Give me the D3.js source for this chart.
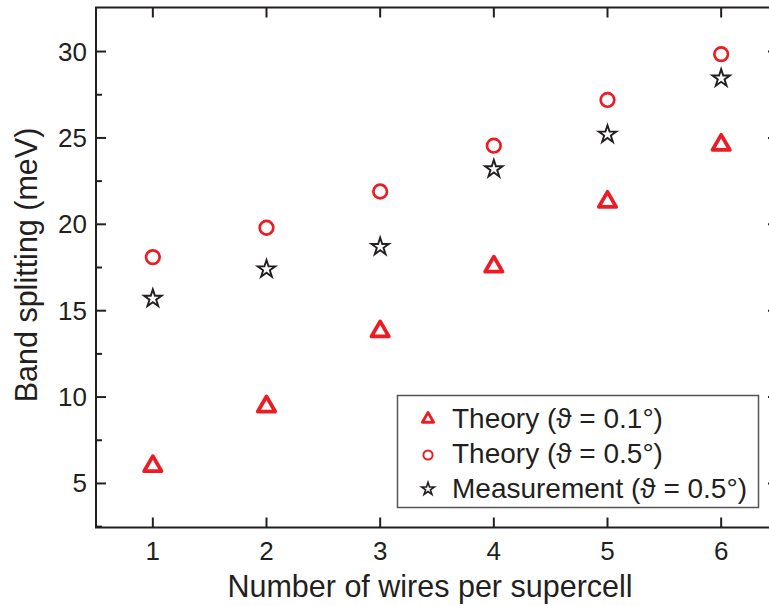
<!DOCTYPE html>
<html>
<head>
<meta charset="utf-8">
<script src="https://cdn.jsdelivr.net/npm/d3@7"></script>
<style>
    body { margin: 0; background: #fff; }
    svg { display: block; font-family: "Liberation Sans", Arial, sans-serif; }
</style>
</head>
<body>
<div id="chart"></div>
<script>
// Data
const wires = [1, 2, 3, 4, 5, 6];
const theory01 = [6.0, 9.45, 13.8, 17.55, 21.3, 24.6];
const theory05 = [18.1, 19.8, 21.9, 24.55, 27.2, 29.85];
const measured05 = [15.7, 17.4, 18.7, 23.2, 25.2, 28.45];
const yMajorTicks = [5, 10, 15, 20, 25, 30];
const yMinorTicks = [2.5, 7.5, 12.5, 17.5, 22.5, 27.5];
const legendLabels = ["Theory (\u03D1 = 0.1\u00B0)", "Theory (\u03D1 = 0.5\u00B0)", "Measurement (\u03D1 = 0.5\u00B0)"];

const width = 769;
const height = 606;
const red = "#ED1C24";
const dark = "#231F20";

const svg = d3.select("#chart").append("svg")
    .attr("width", width)
    .attr("height", height);

const plotLeft = 96, plotRight = 778, plotTop = 7.5, plotBottom = 527.5;

const x = d3.scaleLinear().domain([0.5, 6.5]).range([plotLeft, plotRight]);
const y = d3.scaleLinear().domain([2.45, 32.55]).range([plotBottom, plotTop]);

// Frame with inward ticks on all four sides
svg.append("rect")
    .attr("x", plotLeft)
    .attr("y", plotTop)
    .attr("width", plotRight - plotLeft)
    .attr("height", plotBottom - plotTop)
    .attr("fill", "none")
    .attr("stroke", dark)
    .attr("stroke-width", 2);

function drawTicks(values, len, side) {
    svg.append("g").selectAll("line")
        .data(values)
        .enter()
        .append("line")
        .attr("x1", (d) => side === "left" ? plotLeft : side === "right" ? plotRight : x(d))
        .attr("x2", (d) => side === "left" ? plotLeft + len : side === "right" ? plotRight - len : x(d))
        .attr("y1", (d) => side === "bottom" ? plotBottom : side === "top" ? plotTop : y(d))
        .attr("y2", (d) => side === "bottom" ? plotBottom - len : side === "top" ? plotTop + len : y(d))
        .attr("stroke", dark)
        .attr("stroke-width", 2);
}

drawTicks(yMajorTicks, 10, "left");
drawTicks(yMinorTicks, 6, "left");
drawTicks(yMajorTicks, 10, "right");
drawTicks(yMinorTicks, 6, "right");
drawTicks(wires, 10, "bottom");
drawTicks(wires, 10, "top");

// Tick labels
svg.append("g").selectAll("text")
    .data(yMajorTicks)
    .enter()
    .append("text")
    .text((d) => d)
    .attr("x", 87)
    .attr("y", (d) => y(d) + 9)
    .attr("text-anchor", "end")
    .attr("font-size", 26)
    .attr("fill", dark);

svg.append("g").selectAll("text")
    .data(wires)
    .enter()
    .append("text")
    .text((d) => d)
    .attr("x", (d) => x(d))
    .attr("y", 560)
    .attr("text-anchor", "middle")
    .attr("font-size", 26)
    .attr("fill", dark);

// Axis titles
svg.append("text")
    .text("Number of wires per supercell")
    .attr("x", 430)
    .attr("y", 597)
    .attr("text-anchor", "middle")
    .attr("font-size", 30.5)
    .attr("fill", dark);

svg.append("text")
    .text("Band splitting (meV)")
    .attr("transform", "translate(37,265) rotate(-90)")
    .attr("text-anchor", "middle")
    .attr("font-size", 30.5)
    .attr("fill", dark);

// Markers
const triangle = d3.symbol().type(d3.symbolTriangle).size(130);
const star = d3.symbol().type(d3.symbolStar).size(95);

svg.append("g").selectAll("path")
    .data(theory01)
    .enter()
    .append("path")
    .attr("d", triangle)
    .attr("transform", (d, i) => `translate(${x(wires[i])},${y(d)})`)
    .attr("fill", "none")
    .attr("stroke", red)
    .attr("stroke-width", 3.8)
    .attr("stroke-linejoin", "round");

svg.append("g").selectAll("circle")
    .data(theory05)
    .enter()
    .append("circle")
    .attr("cx", (d, i) => x(wires[i]))
    .attr("cy", (d) => y(d))
    .attr("r", 6.8)
    .attr("fill", "none")
    .attr("stroke", red)
    .attr("stroke-width", 2.7);

svg.append("g").selectAll("path")
    .data(measured05)
    .enter()
    .append("path")
    .attr("d", star)
    .attr("transform", (d, i) => `translate(${x(wires[i])},${y(d)})`)
    .attr("fill", "none")
    .attr("stroke", dark)
    .attr("stroke-width", 1.9);

// Legend
const legend = svg.append("g");
legend.append("rect")
    .attr("x", 397.5)
    .attr("y", 395.5)
    .attr("width", 361)
    .attr("height", 112)
    .attr("fill", "#fff")
    .attr("stroke", "#555")
    .attr("stroke-width", 1.5);

const rowY = [418, 453, 488];
legend.append("path")
    .attr("d", d3.symbol().type(d3.symbolTriangle).size(55))
    .attr("transform", `translate(428,${rowY[0] + 1})`)
    .attr("fill", "none")
    .attr("stroke", red)
    .attr("stroke-width", 2.8)
    .attr("stroke-linejoin", "round");
legend.append("circle")
    .attr("cx", 428)
    .attr("cy", rowY[1] + 2)
    .attr("r", 4.6)
    .attr("fill", "none")
    .attr("stroke", red)
    .attr("stroke-width", 2);
legend.append("path")
    .attr("d", d3.symbol().type(d3.symbolStar).size(50))
    .attr("transform", `translate(428,${rowY[2] + 1})`)
    .attr("fill", "none")
    .attr("stroke", dark)
    .attr("stroke-width", 1.6);

legend.selectAll("text")
    .data(legendLabels)
    .enter()
    .append("text")
    .text((d) => d)
    .attr("x", 452)
    .attr("y", (d, i) => rowY[i] + 10)
    .attr("font-size", 28)
    .attr("fill", dark);
</script>
</body>
</html>
